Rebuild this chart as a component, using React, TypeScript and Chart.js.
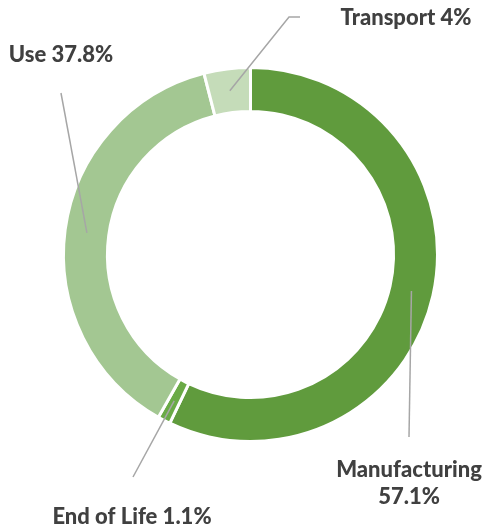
import React, { useEffect, useRef } from "react";
import { Chart, registerables } from "chart.js";

Chart.register(...registerables);

const categories = ["Manufacturing", "End of Life", "Use", "Transport"];
const shares = [57.1, 1.1, 37.8, 4.0];
const labelTexts = [["Manufacturing", "57.1%"], ["End of Life 1.1%"], ["Use 37.8%"], ["Transport 4%"]];
const colors = ["#609B3D", "#6AAA46", "#A3C792", "#C5DCB9"];

// label layout: text centre and leader-line elbow points (outer end)
const labelLayout = [
  { tx: 409, ty: 470, lineH: 27, pts: [[409, 437]] },
  { tx: 132, ty: 517, lineH: 24, pts: [[133, 477]] },
  { tx: 61, ty: 55, lineH: 24, pts: [[61, 93]] },
  { tx: 406, ty: 18, lineH: 24, pts: [[289, 17], [300, 17]] },
];

const leaderPlugin = {
  id: "leaders",
  afterDatasetsDraw(chart: any) {
    const ctx = chart.ctx;
    const meta = chart.getDatasetMeta(0);
    ctx.save();
    meta.data.forEach((arc: any, i: number) => {
      const { x, y, startAngle, endAngle, innerRadius, outerRadius } = arc.getProps(
        ["x", "y", "startAngle", "endAngle", "innerRadius", "outerRadius"],
        true
      );
      const mid = (startAngle + endAngle) / 2;
      const r = (innerRadius + outerRadius) / 2;
      const ax = x + Math.cos(mid) * r;
      const ay = y + Math.sin(mid) * r;
      const lay = labelLayout[i];
      ctx.strokeStyle = "#A6A6A6";
      ctx.lineWidth = 1.5;
      ctx.beginPath();
      ctx.moveTo(ax, ay);
      lay.pts.forEach((p) => ctx.lineTo(p[0], p[1]));
      ctx.stroke();
      ctx.fillStyle = "#404040";
      ctx.font = "900 22px Lato";
      ctx.textAlign = "center";
      ctx.textBaseline = "middle";
      const lines = labelTexts[i];
      lines.forEach((t, k) => {
        ctx.fillText(t, lay.tx, lay.ty + k * lay.lineH);
      });
    });
    ctx.restore();
  },
};

export default function App() {
  const ref = useRef<HTMLCanvasElement>(null);
  useEffect(() => {
    document.body.style.margin = "0";
    const chart = new Chart(ref.current!, {
      type: "doughnut",
      data: {
        labels: categories,
        datasets: [
          {
            data: shares,
            backgroundColor: colors,
            borderColor: "#ffffff",
            borderWidth: 3,
          },
        ],
      },
      options: {
        responsive: false,
        animation: false,
        events: [],
        cutout: "76.5%",
        layout: { padding: { left: 62, right: 46, top: 66, bottom: 85 } },
        plugins: { legend: { display: false }, tooltip: { enabled: false } },
      },
      plugins: [leaderPlugin],
    });
    return () => chart.destroy();
  }, []);
  return <canvas ref={ref} width={485} height={528} style={{ display: "block" }} />;
}
